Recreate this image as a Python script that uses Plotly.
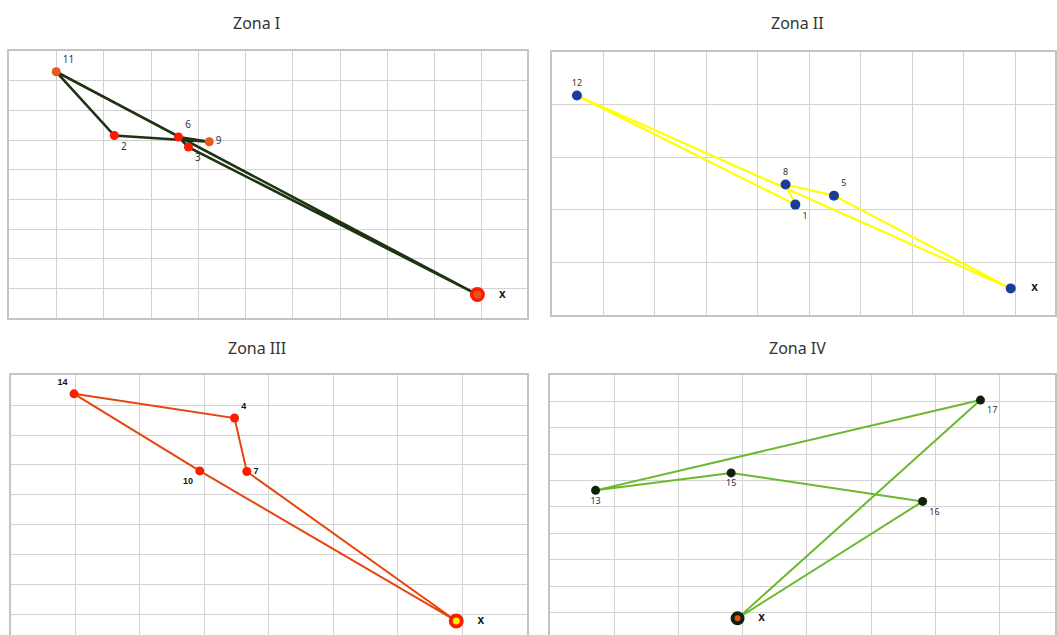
import plotly.graph_objects as go

W, H = 1057, 635

# ---- data (grid units) ----
z1_names = ["X", "11", "2", "6", "9", "3"]
z1_x = [9.91, 0.99, 2.22, 3.58, 4.23, 3.79]
z1_y = [0.79, 8.30, 6.15, 6.10, 5.94, 5.76]
z1_route = ["X", "3", "6", "9", "2", "11", "X"]

z2_names = ["X", "12", "8", "1", "5"]
z2_x = [8.91, 0.49, 4.54, 4.73, 5.48]
z2_y = [0.51, 4.17, 2.48, 2.10, 2.27]
z2_route = ["X", "5", "8", "1", "12", "X"]

z3_names = ["X", "14", "4", "7", "10"]
z3_x = [6.91, 0.98, 3.47, 3.66, 2.93]
z3_y = [-0.22, 7.38, 6.57, 4.78, 4.80]
z3_route = ["X", "7", "4", "14", "10", "X"]

z4_names = ["X", "17", "15", "13", "16"]
z4_x = [2.92, 6.70, 2.82, 0.71, 5.80]
z4_y = [-0.22, 8.05, 5.29, 4.63, 4.21]
z4_route = ["X", "17", "13", "15", "16", "X"]

titles = ["Zona I", "Zona II", "Zona III", "Zona IV"]


def px_x(p):
    return p / W


def px_y(p):
    return 1 - p / H


panels = [
    dict(names=z1_names, x=z1_x, y=z1_y, route=z1_route,
         dom_x=[px_x(9.5), px_x(528)], dom_y=[px_y(318), px_y(51)],
         rx=[0, 10.96], ry=[0, 9], title_x=257, title_y=23,
         line="#1e3312", lw=2.6, dot="#ff1a00", dot_alt="#e85a18",
         alt=["11", "9"], dsize=9,
         x_outer="#ff1a00", x_inner="#e0561c", xo=15, xi=8,
         font=dict(family="Noto Sans", size=10, color="#333333"),
         pos={"11": "top right", "2": "bottom right", "6": "top right",
              "9": "middle right", "3": "bottom right"}),
    dict(names=z2_names, x=z2_x, y=z2_y, route=z2_route,
         dom_x=[px_x(552.7), 1.0], dom_y=[px_y(315.3), px_y(51.7)],
         rx=[0, 9.77], ry=[0, 5], title_x=799, title_y=23,
         line="#ffff00", lw=2.2, dot="#1a3c9c", dot_alt="#1a3c9c",
         alt=[], dsize=10,
         x_outer="#1a3c9c", x_inner="#1a3c9c", xo=10, xi=10,
         font=dict(family="Noto Sans", size=9, color="#333333"),
         pos={"12": "top center", "8": "top center", "1": "bottom right",
              "5": "top right"}),
    dict(names=z3_names, x=z3_x, y=z3_y, route=z3_route,
         dom_x=[px_x(10.9), px_x(527.5)], dom_y=[0, px_y(375.3)],
         rx=[0, 8], ry=[-0.69, 8], title_x=257, title_y=348,
         line="#e8440c", lw=2.0, dot="#ff1a00", dot_alt="#ff1a00",
         alt=[], dsize=9,
         x_outer="#ff1a00", x_inner="#ffee00", xo=15, xi=7,
         font=dict(family="Liberation Sans", size=9, color="#111111", weight="bold"),
         pos={"14": "top left", "4": "top right", "7": "middle right",
              "10": "bottom left"}),
    dict(names=z4_names, x=z4_x, y=z4_y, route=z4_route,
         dom_x=[px_x(551), 1.0], dom_y=[0, px_y(375)],
         rx=[0, 7.86], ry=[-0.85, 9], title_x=799, title_y=348,
         line="#6cb82c", lw=2.0, dot="#0f220a", dot_alt="#0f220a",
         alt=[], dsize=9,
         x_outer="#0f220a", x_inner="#e8501a", xo=14, xi=6,
         font=dict(family="Noto Sans", size=9, color="#333333"),
         pos={"17": "bottom right", "15": "bottom center", "13": "bottom center",
              "16": "bottom right"}),
]

fig = go.Figure()
layout = {}

for i, p in enumerate(panels):
    n = "" if i == 0 else str(i + 1)
    xa, ya = "x" + n, "y" + n
    lookup = {nm: (xv, yv) for nm, xv, yv in zip(p["names"], p["x"], p["y"])}

    # route
    fig.add_trace(go.Scatter(
        x=[lookup[r][0] for r in p["route"]],
        y=[lookup[r][1] for r in p["route"]],
        mode="lines", line=dict(color=p["line"], width=p["lw"]),
        xaxis=xa, yaxis=ya, showlegend=False, hoverinfo="skip",
    ))

    # customers
    cust = [nm for nm in p["names"] if nm != "X"]
    fig.add_trace(go.Scatter(
        x=[lookup[c][0] for c in cust],
        y=[lookup[c][1] for c in cust],
        mode="markers+text", text=cust,
        textposition=[p["pos"][c] for c in cust],
        textfont=p["font"],
        marker=dict(size=p["dsize"],
                    color=[p["dot_alt"] if c in p["alt"] else p["dot"] for c in cust]),
        xaxis=xa, yaxis=ya, showlegend=False, cliponaxis=False,
    ))

    # depot: ring = outer colour, centre = inner colour
    ring = (p["xo"] - p["xi"]) / 2
    fig.add_trace(go.Scatter(
        x=[lookup["X"][0]], y=[lookup["X"][1]],
        mode="markers+text", text=["    <b>x</b>"], textposition="middle right",
        textfont=dict(family="Liberation Sans", size=12, color="#111111"),
        marker=dict(size=(p["xo"] + p["xi"]) / 2, color=p["x_inner"],
                    line=dict(color=p["x_outer"], width=ring)),
        xaxis=xa, yaxis=ya, showlegend=False, cliponaxis=False,
    ))

    ax = dict(showticklabels=False, showgrid=True, gridcolor="#d2d2d2", gridwidth=1.3,
              zeroline=False, showline=True, linecolor="#c4c4c4", linewidth=1.5,
              mirror=True, dtick=1, tick0=0, ticks="", fixedrange=True)
    layout["xaxis" + n] = dict(ax, domain=p["dom_x"], range=p["rx"], anchor=ya)
    layout["yaxis" + n] = dict(ax, domain=p["dom_y"], range=p["ry"], anchor=xa)

    fig.add_annotation(x=px_x(p["title_x"]), y=px_y(p["title_y"]), xref="paper", yref="paper",
                       xanchor="center", yanchor="middle",
                       text=titles[i], showarrow=False,
                       font=dict(family="Noto Sans", size=16, color="#333333"))

fig.update_layout(
    width=W, height=H,
    margin=dict(l=0, r=0, t=0, b=0),
    paper_bgcolor="white", plot_bgcolor="white",
    **layout,
)

fig.write_html("out.html", config={"displayModeBar": False},
               post_script="document.body.style.margin='0';document.body.style.overflow='hidden';")
